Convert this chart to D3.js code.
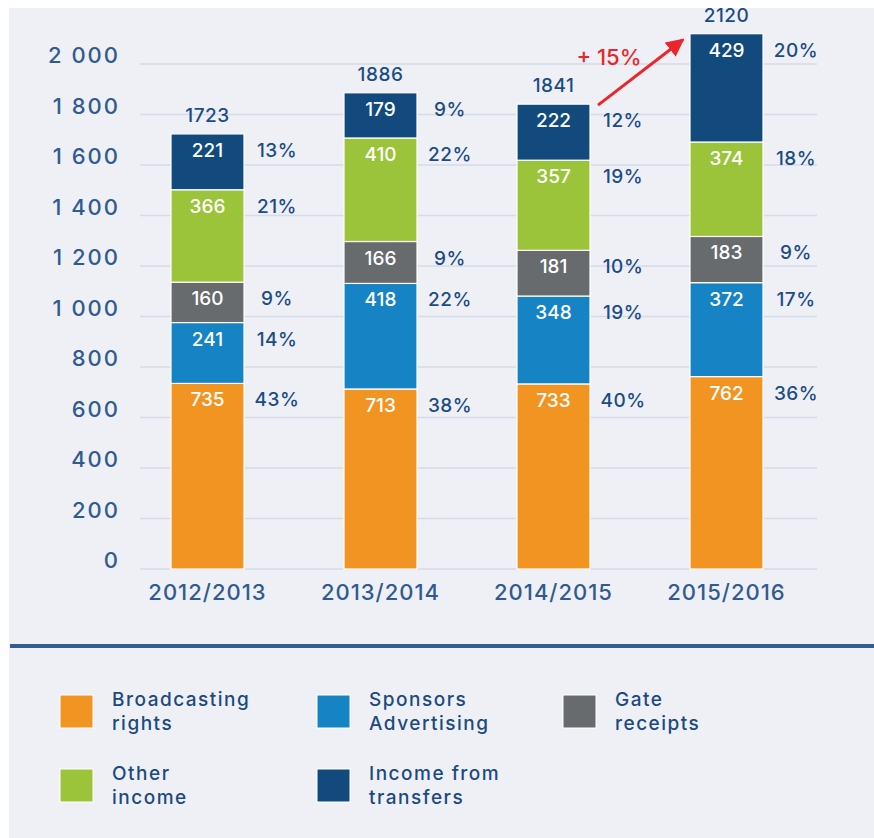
<!DOCTYPE html>
<html>
<head>
<meta charset="utf-8">
<script src="https://cdn.jsdelivr.net/npm/d3@7/dist/d3.min.js"></script>
<style>
  html, body { margin: 0; padding: 0; background: #ffffff; }
  svg { display: block; }
  text { font-family: "Inter", "DejaVu Sans", sans-serif; font-weight: 500; }
</style>
</head>
<body>
<div id="chart"></div>
<script>
// ---------- DATA ----------
const seasons = ["2012/2013", "2013/2014", "2014/2015", "2015/2016"];
const seriesKeys = ["broadcasting", "sponsors", "gate", "other", "transfers"];
const seriesNames = [
  ["Broadcasting", "rights"],
  ["Sponsors", "Advertising"],
  ["Gate", "receipts"],
  ["Other", "income"],
  ["Income from", "transfers"]
];
const broadcasting = [735, 713, 733, 762];
const sponsors     = [241, 418, 348, 372];
const gate         = [160, 166, 181, 183];
const other        = [366, 410, 357, 374];
const transfers    = [221, 179, 222, 429];
const pctBroadcasting = [43, 38, 40, 36];
const pctSponsors     = [14, 22, 19, 17];
const pctGate         = [9, 9, 10, 9];
const pctOther        = [21, 22, 19, 18];
const pctTransfers    = [13, 9, 12, 20];
const totals = [1723, 1886, 1841, 2120];
const yTicks = [0, 200, 400, 600, 800, 1000, 1200, 1400, 1600, 1800, 2000];
const yTickLabels = ["0", "200", "400", "600", "800", "1 000", "1 200", "1 400", "1 600", "1 800", "2 000"];
const growthLabel = "+ 15%";

// ---------- STYLE ----------
const colors = ["#f29422", "#1683c4", "#686b6e", "#9cc43a", "#134a7e"];
const W = 874, H = 838;

const values = [broadcasting, sponsors, gate, other, transfers];
const pcts = [pctBroadcasting, pctSponsors, pctGate, pctOther, pctTransfers];
const table = seasons.map((s, i) => {
  const o = { season: s };
  seriesKeys.forEach((k, j) => { o[k] = values[j][i]; });
  return o;
});
const stacked = d3.stack().keys(seriesKeys)(table);

const svg = d3.select("#chart").append("svg").attr("width", W).attr("height", H);
svg.append("rect").attr("x", 9).attr("y", 8).attr("width", W - 9).attr("height", H - 8).attr("fill", "#eff0f6");

const x = d3.scaleBand().domain(seasons).range([121, 813]).paddingInner(0.578).paddingOuter(0.289);
const y = d3.scaleLinear().domain([0, 2000]).range([569, 64]);

// grid
svg.append("g").selectAll("line").data(yTicks).join("line")
  .attr("x1", 140).attr("x2", 817)
  .attr("y1", d => y(d)).attr("y2", d => y(d))
  .attr("stroke", "#d5dbea").attr("stroke-width", 1.5);

// y tick labels
svg.append("g").selectAll("text").data(yTicks).join("text")
  .attr("x", 120).attr("y", d => y(d) - 1)
  .attr("text-anchor", "end")
  .attr("font-size", 22).attr("letter-spacing", 2).attr("fill", "#2f5b92")
  .text((d, i) => yTickLabels[i]);

// bars
const layers = svg.append("g").selectAll("g").data(stacked).join("g")
  .attr("fill", (d, i) => colors[i]);
layers.selectAll("rect").data(d => d).join("rect")
  .attr("x", d => x(d.data.season))
  .attr("width", x.bandwidth())
  .attr("y", d => y(d[1]))
  .attr("height", d => y(d[0]) - y(d[1]))
  .attr("stroke", "#ffffff").attr("stroke-width", 1.2);

// inside value labels and percents
stacked.forEach((layer, j) => {
  layer.forEach((d, i) => {
    const cx = x(d.data.season) + x.bandwidth() / 2;
    const ty = y(d[1]) + 23;
    svg.append("text").attr("x", cx).attr("y", ty).attr("text-anchor", "middle")
      .attr("font-size", 19).attr("fill", "#ffffff").text(values[j][i]);
    svg.append("text").attr("x", x(d.data.season) + x.bandwidth() + 33).attr("y", ty)
      .attr("text-anchor", "middle").attr("font-size", 19).attr("letter-spacing", 0.5).attr("fill", "#1b4c85")
      .text(pcts[j][i] + "%");
  });
});

// totals
svg.append("g").selectAll("text").data(seasons).join("text")
  .attr("x", d => x(d) + x.bandwidth() / 2)
  .attr("y", (d, i) => y(totals[i]) - 12)
  .attr("text-anchor", "middle").attr("font-size", 19).attr("letter-spacing", 0.5).attr("fill", "#1b4c85")
  .text((d, i) => totals[i]);

// x labels
svg.append("g").selectAll("text").data(seasons).join("text")
  .attr("x", d => x(d) + x.bandwidth() / 2).attr("y", 600)
  .attr("text-anchor", "middle").attr("font-size", 22).attr("letter-spacing", 1).attr("fill", "#2f5b92")
  .text(d => d);

// growth arrow
const x0 = x(seasons[2]) + x.bandwidth() + 8, y0 = y(totals[2]) + 1;
const x1 = x(seasons[3]) - 7, y1 = y(totals[3]) + 6;
svg.append("defs").append("marker").attr("id", "ah")
  .attr("viewBox", "0 0 10 10").attr("refX", 9).attr("refY", 5)
  .attr("markerWidth", 6).attr("markerHeight", 6).attr("orient", "auto")
  .append("path").attr("d", "M0,0 L10,5 L0,10 z").attr("fill", "#e8262b");
svg.append("line").attr("x1", x0).attr("y1", y0).attr("x2", x1).attr("y2", y1)
  .attr("stroke", "#e8262b").attr("stroke-width", 3).attr("marker-end", "url(#ah)");
svg.append("text").attr("x", x0 + 11).attr("y", y0 - 40).attr("text-anchor", "middle")
  .attr("font-size", 22).attr("font-weight", 600).attr("fill", "#e8262b").text(growthLabel);

// separator
svg.append("rect").attr("x", 10).attr("y", 644).attr("width", W - 10).attr("height", 4).attr("fill", "#345c92");

// legend
const colX = [60, 317, 563], rowY = [695, 769];
const leg = svg.append("g").selectAll("g").data(seriesNames).join("g")
  .attr("transform", (d, i) => `translate(${colX[i % 3]},${rowY[Math.floor(i / 3)]})`);
leg.append("rect").attr("width", 33).attr("height", 33)
  .attr("fill", (d, i) => colors[i]).attr("stroke", "#ffffff").attr("stroke-width", 1);
leg.each(function(d) {
  const g = d3.select(this);
  d.forEach((line, k) => {
    g.append("text").attr("x", 52).attr("y", 11 + k * 24)
      .attr("font-size", 19).attr("font-weight", 600).attr("letter-spacing", 1.5)
      .attr("fill", "#1b4a80").text(line);
  });
});
</script>
</body>
</html>
